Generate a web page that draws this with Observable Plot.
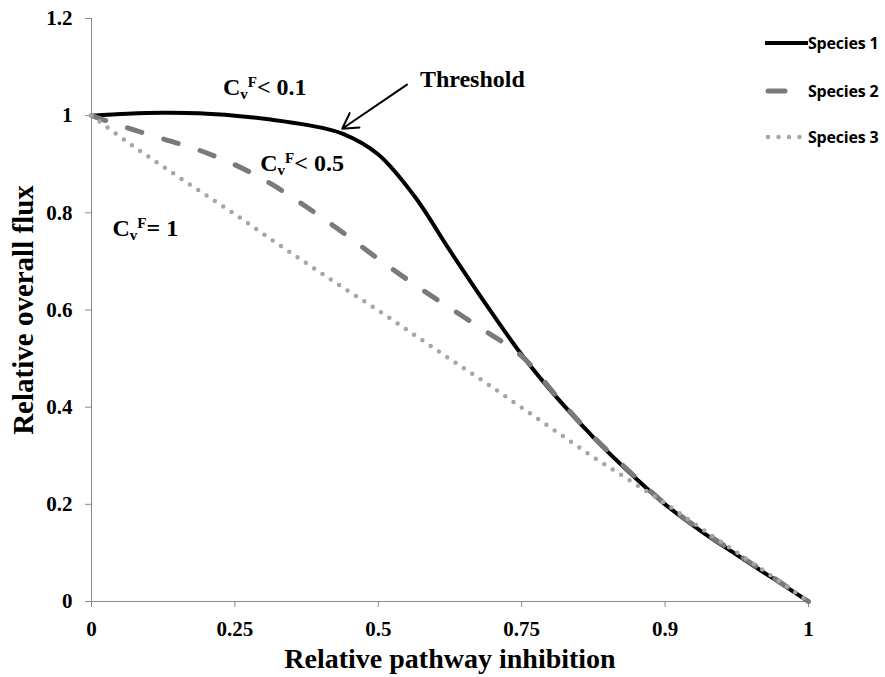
<!DOCTYPE html>
<html>
<head>
<meta charset="utf-8">
<script src="https://cdn.jsdelivr.net/npm/d3@7"></script>
<script src="https://cdn.jsdelivr.net/npm/@observablehq/plot@0.6"></script>
<style>
  body { margin: 0; background: #fff; }
  #wrap { position: relative; width: 885px; height: 677px; }
  #legend { position: absolute; left: 765px; top: 0; font-family: "Open Sans", sans-serif; font-weight: bold; font-size: 16px; color: #000; letter-spacing: -0.2px; }
  .item { position: absolute; left: 0; display: flex; align-items: center; white-space: nowrap; transform: translateY(-50%); }
  .item svg { display: block; }
</style>
</head>
<body>
<div id="wrap"><div id="legend"></div></div>
<script>
// ---- data ----
const xLabels = ["0", "0.25", "0.5", "0.75", "0.9", "1"];
const yTicks = [0, 0.2, 0.4, 0.6, 0.8, 1, 1.2];
// category position along the x axis (0 = first label, 5 = last label)
const position = [0, 0.25, 0.5, 0.75, 1, 1.25, 1.5, 1.75, 2, 2.25, 2.5, 2.75, 3, 3.25, 3.5, 3.75, 4, 4.25, 4.5, 4.75, 5];
const seriesNames = ["Species 1", "Species 2", "Species 3"];
const species1 = [1.000, 1.004, 1.006, 1.005, 1.000, 0.992, 0.981, 0.963, 0.920, 0.835, 0.722, 0.612, 0.508, 0.418, 0.338, 0.266, 0.200, 0.145, 0.096, 0.048, 0.000];
const species2 = [1.000, 0.975, 0.952, 0.929, 0.899, 0.860, 0.812, 0.760, 0.705, 0.653, 0.604, 0.556, 0.505, 0.420, 0.339, 0.268, 0.201, 0.147, 0.098, 0.050, 0.000];
const species3 = [1.000, 0.946, 0.895, 0.846, 0.797, 0.746, 0.696, 0.647, 0.599, 0.549, 0.499, 0.450, 0.399, 0.348, 0.297, 0.250, 0.202, 0.151, 0.101, 0.051, 0.000];
const annotations = [
  {pos: 0.920, val: 1.041, rel: "< 0.1"},
  {pos: 1.180, val: 0.885, rel: "< 0.5"},
  {pos: 0.150, val: 0.751, rel: "= 1"}
];
const thresholdLabel = {pos: 2.290, val: 1.060, text: "Threshold"};
const thresholdArrow = [{x1: 2.20, y1: 1.064, x2: 1.748, y2: 0.973}];

// ---- styles ----
const styles = [
  {stroke: "#000000", strokeWidth: 4, dash: null, cap: "butt"},
  {stroke: "#7a7a7a", strokeWidth: 5, dash: "15,23", cap: "round"},
  {stroke: "#a6a6a6", strokeWidth: 4.5, dash: "0,10", cap: "round"}
];

const allSeries = [species1, species2, species3];
const rows = [];
seriesNames.forEach((name, s) => {
  position.forEach((p, i) => rows.push({series: name, position: p, value: allSeries[s][i]}));
});

const serif = "'Liberation Serif', 'Times New Roman', serif";

const lineMarks = seriesNames.map((name, s) => Plot.line(rows.filter(d => d.series === name), {
  x: "position", y: "value",
  stroke: styles[s].stroke, strokeWidth: styles[s].strokeWidth,
  strokeDasharray: styles[s].dash || undefined,
  strokeLinecap: styles[s].cap,
  curve: "catmull-rom"
}));

const chart = Plot.plot({
  width: 885, height: 677,
  marginLeft: 91, marginRight: 77, marginTop: 18, marginBottom: 76,
  style: {fontFamily: serif, fontWeight: "bold", fontSize: "21px", background: "white", color: "black"},
  x: {domain: [0, xLabels.length - 1]},
  y: {domain: [0, 1.2]},
  marks: [
    Plot.axisX({ticks: d3.range(xLabels.length), tickFormat: i => xLabels[i], tickSize: 6, tickPadding: 14, stroke: "#8a8a8a", fill: "black", label: null, fontSize: 21, fontFamily: serif, fontWeight: "bold"}),
    Plot.axisY({ticks: yTicks, tickFormat: d3.format("~g"), tickSize: 6, tickPadding: 13, stroke: "#8a8a8a", fill: "black", label: null, fontSize: 21, fontFamily: serif, fontWeight: "bold"}),
    Plot.ruleY([0], {stroke: "#8a8a8a"}),
    Plot.ruleX([0], {stroke: "#8a8a8a"}),
    ...lineMarks,
    Plot.arrow(thresholdArrow, {x1: "x1", y1: "y1", x2: "x2", y2: "y2", stroke: "black", strokeWidth: 2, headLength: 13}),
    Plot.text([thresholdLabel], {x: "pos", y: "val", text: "text", textAnchor: "start", lineAnchor: "bottom", fontSize: 24, fontFamily: serif, fontWeight: "bold"}),
    Plot.text(["Relative pathway inhibition"], {frameAnchor: "bottom", textAnchor: "middle", dy: 66, lineAnchor: "bottom", fontSize: 28, fontFamily: serif, fontWeight: "bold"}),
    Plot.text(["Relative overall flux"], {frameAnchor: "left", textAnchor: "middle", dx: -59, rotate: -90, lineAnchor: "bottom", fontSize: 29, fontFamily: serif, fontWeight: "bold"})
  ]
});

// C_v^F annotations, placed through the plot's scales
const sx = chart.scale("x"), sy = chart.scale("y");
const svg = d3.select(chart);
annotations.forEach(a => {
  const t = svg.append("text")
    .attr("x", sx.apply(a.pos)).attr("y", sy.apply(a.val))
    .attr("text-anchor", "start")
    .attr("font-family", serif).attr("font-weight", "bold").attr("font-size", 24)
    .attr("fill", "black");
  t.append("tspan").text("C");
  t.append("tspan").attr("font-size", 15).attr("dy", 4).text("v");
  t.append("tspan").attr("font-size", 15).attr("dx", 0).attr("dy", -12).text("F");
  t.append("tspan").attr("dy", 8).text(a.rel);
});

document.getElementById("wrap").prepend(chart);

// legend
const legend = document.getElementById("legend");
const legendY = [43, 91, 137];
seriesNames.forEach((name, s) => {
  const item = document.createElement("div");
  item.className = "item";
  item.style.top = legendY[s] + "px";
  const st = styles[s];
  const ns = "http://www.w3.org/2000/svg";
  const sw = document.createElementNS(ns, "svg");
  sw.setAttribute("width", 43); sw.setAttribute("height", 10);
  const ln = document.createElementNS(ns, "line");
  const x1 = s === 0 ? 0 : 3, x2 = s === 0 ? 43 : (s === 1 ? 20 : 36);
  ln.setAttribute("x1", x1); ln.setAttribute("x2", x2);
  ln.setAttribute("y1", 5); ln.setAttribute("y2", 5);
  ln.setAttribute("stroke", st.stroke);
  ln.setAttribute("stroke-width", st.strokeWidth);
  ln.setAttribute("stroke-linecap", st.cap);
  if (s === 2) ln.setAttribute("stroke-dasharray", "0,10.5");
  sw.appendChild(ln);
  const lab = document.createElement("span");
  lab.textContent = name;
  item.appendChild(sw); item.appendChild(lab);
  legend.appendChild(item);
});
</script>
</body>
</html>
